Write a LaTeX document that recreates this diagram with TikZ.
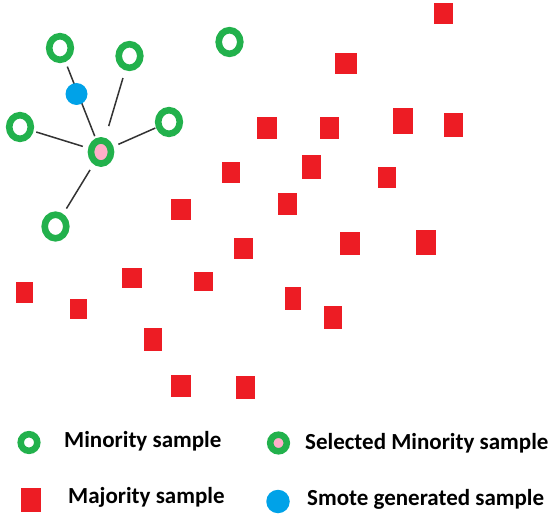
\documentclass[tikz,border=0pt]{standalone}
\usepackage{fontspec}
\setmainfont{Carlito}
\usetikzlibrary{shapes.geometric}
\definecolor{mgreen}{RGB}{34,177,76}
\definecolor{mred}{RGB}{237,28,36}
\definecolor{mblue}{RGB}{0,162,232}
\definecolor{mpink}{RGB}{255,174,201}
\definecolor{mline}{RGB}{51,51,51}
\tikzset{
  ring/.style={draw=mgreen, line width=6.6pt, fill=white},
  selring/.style={ring, fill=mpink},
  legring/.style={draw=mgreen, line width=6.5pt, fill=white},
  legsel/.style={legring, fill=mpink},
  smotept/.style={circle, fill=mblue, inner sep=0pt, minimum size=22pt},
  majsq/.style={rectangle, fill=mred, inner sep=0pt, minimum width=19.5pt, minimum height=22pt},
  link/.style={draw=mline, line width=1.5pt},
  legtext/.style={anchor=base west, inner sep=0pt, font=\fontsize{23}{26}\selectfont\bfseries}
}
\begin{document}
\begin{tikzpicture}[x=1pt,y=-1pt]
\useasboundingbox (0,0) rectangle (550,519);
% minority samples
\coordinate (A) at (60,48);
\coordinate (B) at (129.5,56);
\coordinate (C) at (229.5,42);
\coordinate (D) at (20,127);
\coordinate (E) at (169,122);
\coordinate (F) at (55.5,226.5);
\coordinate (S) at (101,152);
\foreach \p in {A,B,C,D,E,F}
  \draw[ring] (\p) ellipse [x radius=10.8pt, y radius=11.8pt];
\draw[selring] (S) ellipse [x radius=10pt, y radius=11.6pt];
% links
\draw[link, shorten <=20pt, shorten >=17pt] (A) -- (S);
\draw[link, shorten <=23pt, shorten >=27pt] (B) -- (S);
\draw[link, shorten <=17pt, shorten >=19pt] (D) -- (S);
\draw[link, shorten <=15pt, shorten >=19pt] (E) -- (S);
\draw[link, shorten <=21pt, shorten >=21pt] (F) -- (S);
% smote generated
\node[smotept] (G) at (76.5,94) {};
% majority samples
\node[majsq, minimum width=19pt, minimum height=21pt] (m1) at (443.5,13.5) {};
\node[majsq, minimum width=22pt, minimum height=21pt] (m2) at (346,63.5) {};
\node[majsq, minimum width=20pt, minimum height=22pt] (m3) at (267,128) {};
\node[majsq, minimum width=19pt, minimum height=22pt] (m4) at (329.5,128) {};
\node[majsq, minimum width=20pt, minimum height=26pt] (m5) at (403,121) {};
\node[majsq, minimum width=19pt, minimum height=24pt] (m6) at (453.5,125) {};
\node[majsq, minimum width=18pt, minimum height=21pt] (m7) at (231,172.5) {};
\node[majsq, minimum width=19pt, minimum height=24pt] (m8) at (311.5,167) {};
\node[majsq, minimum width=18pt, minimum height=21pt] (m9) at (387,177.5) {};
\node[majsq, minimum width=20pt, minimum height=21pt] (m10) at (181,209.5) {};
\node[majsq, minimum width=19pt, minimum height=22pt] (m11) at (287.5,204) {};
\node[majsq, minimum width=19pt, minimum height=21pt] (m12) at (243.5,248.5) {};
\node[majsq, minimum width=20pt, minimum height=23pt] (m13) at (350,243.5) {};
\node[majsq, minimum width=20pt, minimum height=25pt] (m14) at (426,242.5) {};
\node[majsq, minimum width=19pt, minimum height=19pt] (m15) at (203.5,281.5) {};
\node[majsq, minimum width=16pt, minimum height=23pt] (m16) at (293,298.5) {};
\node[majsq, minimum width=18pt, minimum height=23pt] (m17) at (333,317.5) {};
\node[majsq, minimum width=18pt, minimum height=23pt] (m18) at (153,339.5) {};
\node[majsq, minimum width=20pt, minimum height=22pt] (m19) at (181,386) {};
\node[majsq, minimum width=19pt, minimum height=23pt] (m20) at (245.5,387.5) {};
\node[majsq, minimum width=17pt, minimum height=21pt] (m21) at (24.5,292.5) {};
\node[majsq, minimum width=17pt, minimum height=20pt] (m22) at (78.5,309) {};
\node[majsq, minimum width=20pt, minimum height=20pt] (m23) at (132,278) {};
% legend
\coordinate (l1) at (29,442.5);
\draw[legring] (l1) circle [radius=8.3pt];
\node[legtext] (t1) at (64,447) {Minority sample};
\coordinate (l2) at (278.5,443);
\draw[legsel] (l2) circle [radius=8.3pt];
\node[legtext] (t2) at (305,449.5) {Selected Minority sample};
\node[majsq, minimum width=20pt, minimum height=24pt] (l3) at (31,500) {};
\node[legtext] (t3) at (68,503) {Majority sample};
\node[smotept, minimum size=23.5pt] (l4) at (278,501.5) {};
\node[legtext] (t4) at (307,505) {Smote generated sample};
\end{tikzpicture}
\end{document}
